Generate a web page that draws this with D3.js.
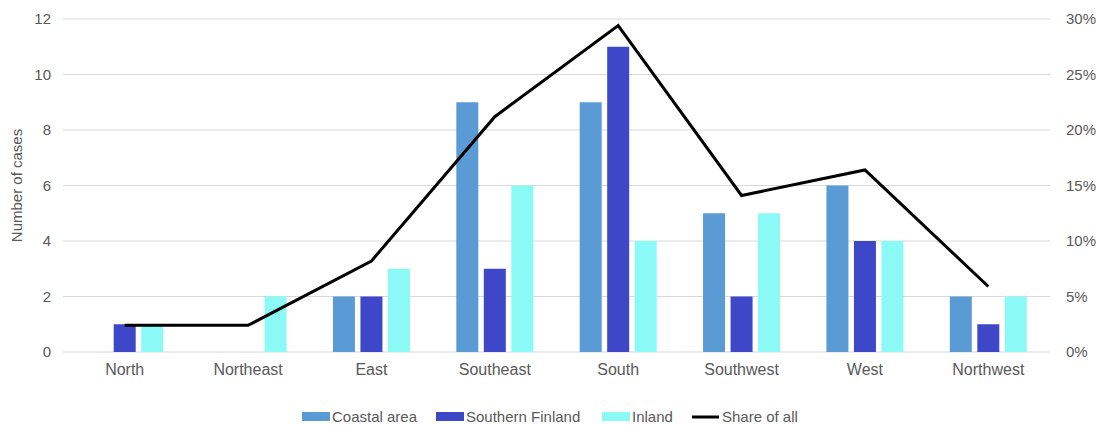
<!DOCTYPE html>
<html>
<head>
<meta charset="utf-8">
<script src="https://cdn.jsdelivr.net/npm/d3@7"></script>
<style>
  html, body { margin: 0; padding: 0; background: #fff; }
  svg { display: block; font-family: "Liberation Sans", Arial, sans-serif; }
</style>
</head>
<body>
<svg id="chart" width="1096" height="425"></svg>
<script>
// Cases by region, split into three area types, plus the share of all cases
const categories = ["North", "Northeast", "East", "Southeast", "South", "Southwest", "West", "Northwest"];
const coastal = [0, 0, 2, 9, 9, 5, 6, 2];
const southernFinland = [1, 0, 2, 3, 11, 2, 4, 1];
const inland = [1, 2, 3, 6, 4, 5, 4, 2];
const shareOfAll = [0.024, 0.024, 0.082, 0.212, 0.294, 0.141, 0.164, 0.059];
const leftTicks = [0, 2, 4, 6, 8, 10, 12];
const rightTicks = [0, 0.05, 0.10, 0.15, 0.20, 0.25, 0.30];

const seriesNames = ["Coastal area", "Southern Finland", "Inland"];
const seriesValues = [coastal, southernFinland, inland];
const colors = ["#5b9bd5", "#3f47c9", "#8bfaf7"];

const svg = d3.select("#chart");
const plotLeft = 63, plotRight = 1050, plotTop = 19, plotBottom = 352;
const groupWidth = 77;

const x = d3.scaleBand().domain(categories).range([plotLeft, plotRight]).paddingInner(0).paddingOuter(0);
const xs = d3.scaleBand().domain(seriesNames).range([0, groupWidth]).paddingInner(0.2);
const y = d3.scaleLinear().domain([0, 12]).range([plotBottom, plotTop]);
const y2 = d3.scaleLinear().domain([0, 0.30]).range([plotBottom, plotTop]);

// Gridlines
svg.append("g")
  .selectAll("line")
  .data(leftTicks)
  .join("line")
  .attr("x1", plotLeft).attr("x2", plotRight)
  .attr("y1", d => y(d)).attr("y2", d => y(d))
  .attr("stroke", "#d9d9d9").attr("stroke-width", 1);

// Left axis
const yAxis = svg.append("g")
  .attr("transform", `translate(${plotLeft},0)`)
  .call(d3.axisLeft(y).tickValues(leftTicks).tickSize(0).tickPadding(12));
yAxis.select(".domain").remove();
yAxis.selectAll("text").attr("fill", "#595959").style("font-size", "15px");

// Right axis
const y2Axis = svg.append("g")
  .attr("transform", `translate(${plotRight},0)`)
  .call(d3.axisRight(y2).tickValues(rightTicks).tickSize(0).tickPadding(16).tickFormat(d3.format(".0%")));
y2Axis.select(".domain").remove();
y2Axis.selectAll("text").attr("fill", "#595959").style("font-size", "15px");

// Bottom axis
const xAxis = svg.append("g")
  .attr("transform", `translate(0,${plotBottom})`)
  .call(d3.axisBottom(x).tickSize(0).tickPadding(12));
xAxis.select(".domain").remove();
xAxis.selectAll("text").attr("fill", "#595959").style("font-size", "16px");

// Y axis title
svg.append("text")
  .attr("transform", `translate(22,${(plotTop + plotBottom) / 2}) rotate(-90)`)
  .attr("text-anchor", "middle")
  .attr("fill", "#595959")
  .style("font-size", "15px")
  .text("Number of cases");

// Bars
const groups = svg.append("g")
  .selectAll("g")
  .data(categories)
  .join("g")
  .attr("transform", d => `translate(${x(d) + x.bandwidth() / 2 - groupWidth / 2},0)`);

groups.selectAll("rect")
  .data((d, i) => seriesNames.map((s, k) => ({ s, v: seriesValues[k][i], k })))
  .join("rect")
  .attr("x", d => xs(d.s))
  .attr("width", xs.bandwidth())
  .attr("y", d => y(d.v))
  .attr("height", d => plotBottom - y(d.v))
  .attr("fill", d => colors[d.k]);

// Share line
const line = d3.line()
  .x((d, i) => x(categories[i]) + x.bandwidth() / 2)
  .y(d => y2(d));
svg.append("path")
  .datum(shareOfAll)
  .attr("d", line)
  .attr("fill", "none")
  .attr("stroke", "#000")
  .attr("stroke-width", 3)
  .attr("stroke-linejoin", "miter");

// Legend
const legendY = 417;
const legendItems = [
  { name: "Coastal area", color: colors[0], x: 302, type: "rect" },
  { name: "Southern Finland", color: colors[1], x: 436, type: "rect" },
  { name: "Inland", color: colors[2], x: 602, type: "rect" },
  { name: "Share of all", color: "#000", x: 692, type: "line" }
];
const legend = svg.append("g");
legendItems.forEach(it => {
  if (it.type === "rect") {
    legend.append("rect")
      .attr("x", it.x).attr("y", legendY - 5)
      .attr("width", 28).attr("height", 9)
      .attr("fill", it.color);
  } else {
    legend.append("line")
      .attr("x1", it.x).attr("x2", it.x + 27)
      .attr("y1", legendY).attr("y2", legendY)
      .attr("stroke", it.color).attr("stroke-width", 3);
  }
  legend.append("text")
    .attr("x", it.x + 30).attr("y", legendY + 5)
    .attr("fill", "#595959")
    .style("font-size", "15px")
    .text(it.name);
});
</script>
</body>
</html>
